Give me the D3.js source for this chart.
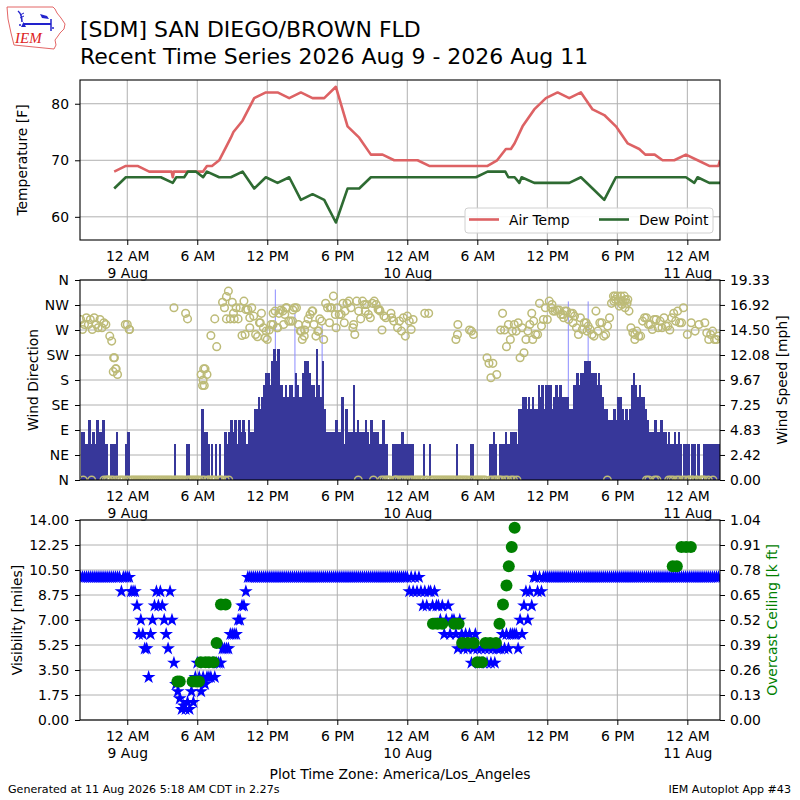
<!DOCTYPE html>
<html>
<head>
<meta charset="utf-8">
<script src="https://cdn.jsdelivr.net/npm/d3@7"></script>
<style>
body { margin: 0; background: #fff; }
svg { display: block; font-family: "DejaVu Sans", sans-serif; }
</style>
</head>
<body>
<svg id="chart" width="800" height="800"></svg>
<script>
// all times are hours after 9 Aug 2026 00:00 (plot time zone)
var airTemp = [[-1.12,68],[-0.12,69],[0.88,69],[1.88,68],[2.88,68],[3.8,68],[3.9,67],[4.0,68],[4.88,68],[5.88,68],
  [6.5,68],[6.83,69],[7.26,69],[7.88,70],[8.88,74],[9.1,75],[9.88,77],[10.88,81],[11.88,82],[12.88,82],[13.88,81],
  [14.88,82],[15.88,81],[16.88,81],[17.88,83],[18.88,76],[19.88,74],[20.88,71],[21.88,71],[22.88,70],[23.88,70],
  [24.88,70],[25.88,69],[26.88,69],[27.88,69],[28.88,69],[29.88,69],[30.88,69],[31.7,70],[32.45,72],[32.88,72],
  [33.2,73],[33.88,76],[34.88,79],[35.88,81],[36.88,82],[37.88,81],[38.88,82],[39.88,79],[40.88,78],[41.88,76],
  [42.88,73],[43.88,72],[44.4,71],[45.2,71],[45.88,70],[46.88,70],[47.88,71],[48.88,70],[49.88,69],[50.66,69],[50.8,70]];
var dewPoint = [[-1.12,65],[-0.12,67],[0.88,67],[1.88,67],[2.88,67],[3.9,66],[4.2,67],[4.88,67],[5.2,68],[5.88,68],
  [6.5,67],[6.83,68],[7.88,67],[8.88,67],[9.88,68],[10.88,65],[11.88,67],[12.88,66],[13.88,67],[14.88,63],[15.88,64],
  [16.88,63],[17.88,59],[18.88,65],[19.88,65],[20.88,67],[21.88,67],[22.88,67],[23.88,67],[24.88,67],[25.88,67],
  [26.88,67],[27.88,67],[28.88,67],[29.88,67],[30.88,68],[31.88,68],[32.4,68],[32.66,67],[33.2,67],[33.6,66],
  [33.8,67],[34.88,66],[35.88,66],[36.88,66],[37.88,66],[38.88,67],[39.88,65],[40.88,63],[41.88,67],[42.88,67],
  [43.88,67],[44.88,67],[45.88,67],[46.88,67],[47.88,67],[48.6,66],[48.88,67],[49.88,66],[50.8,66]];

// wind: one sample every 10 minutes starting 8 Aug 20:00, one line per hour
var windStartHour = -4;
var windStepMin = 10;
var windKnots = [
  4,4,3,3,5,3,  4,3,5,4,4,5,  3,3,0,3,3,3,  4,0,0,0,0,3,          // 8 Aug 20h-23h
  4,0,0,0,0,0,  0,0,0,0,0,0,  0,0,0,0,0,0,  0,0,0,0,0,0,          // 9 Aug 0h-3h
  3,0,0,0,0,0,  3,3,0,0,0,0,  0,0,6,4,4,3,  0,3,0,3,0,3,
  0,0,4,3,4,5,  4,5,3,5,4,5,  4,3,5,4,4,6,  6,7,6,7,8,9,
  9,8,10,11,10,11,  8,8,7,8,7,8,  8,7,9,8,7,7,  9,10,10,9,8,8,
  7,11,8,7,10,6,  4,4,4,4,4,5,  4,4,7,3,6,4,  4,4,8,4,5,4,
  4,4,5,4,3,5,  4,4,4,3,3,5,  3,3,0,0,3,3,  3,3,3,4,3,3,
  3,3,3,0,0,0,  0,0,3,0,0,3,  0,0,0,0,0,0,  0,0,0,0,0,0,          // 10 Aug 0h-3h
  0,3,0,0,0,0,  0,0,3,3,0,0,  0,0,0,0,0,0,  3,3,4,3,0,3,
  3,3,4,3,3,4,  4,4,3,6,6,7,  7,6,7,6,7,6,  6,8,7,8,6,8,
  8,8,6,7,8,7,  8,7,7,7,7,6,  6,8,8,9,8,9,  9,10,10,10,9,9,
  9,8,9,8,7,6,  6,5,5,5,6,5,  7,7,6,5,6,5,  6,8,9,8,7,8,
  7,7,6,5,4,4,  4,5,4,4,5,4,  4,3,4,3,3,4,  3,4,3,0,3,3,
  3,0,3,3,0,3,  0,0,3,3,3,3,  3,3,3,3,3                           // 11 Aug 0h-2h
];
// direction in degrees for the same samples (0 = calm, drawn at N)
var windDir = [
  289,271,280,292,280,289,  271,292,280,274,289,274,  283,280,0,259,250,220,  200,190,0,0,0,280,
  280,271,0,0,0,0,  0,0,0,0,0,0,  0,0,0,0,0,0,  0,0,0,0,0,0,
  310,0,0,0,0,0,  300,290,0,0,0,0,  0,0,190,180,200,190,  0,260,0,290,240,0,
  0,320,310,330,340,290,  320,290,310,290,310,260,  322,307,307,274,310,295,  262,258,283,300,274,256,
  253,270,280,280,304,274,  300,306,304,298,310,286,  286,286,310,310,280,268,  253,259,280,290,298,304,
  280,259,268,290,286,253,  318,310,283,310,331,298,  310,298,298,318,304,318,  322,310,274,262,322,304,
  290,322,316,316,298,292,  318,322,316,307,304,270,  295,292,0,0,292,286,  0,274,286,268,292,259,
  295,286,271,289,0,0,  0,0,0,300,0,300,  0,0,0,0,0,0,  0,0,0,0,0,0,
  0,253,280,0,0,0,  0,0,270,268,262,0,  0,0,0,0,0,220,  210,184,210,0,190,0,
  270,300,270,240,280,253,  268,280,268,283,220,274,  229,253,268,280,300,286,  262,262,318,277,289,310,
  289,322,310,304,304,306,  306,298,298,304,304,289,  300,300,295,274,262,292,  271,283,283,277,271,262,
  259,304,268,283,283,259,  262,277,292,318,331,325,  331,313,322,322,310,318,  304,274,265,253,268,259,
  259,286,292,292,280,280,  271,289,289,274,286,274,  292,277,277,270,292,300,  286,304,283,283,310,0,
  262,0,283,0,268,0,  280,0,0,283,265,253,  262,268,253,253,259
];
// further direction reports between the 10 minute samples [hour, degrees]
var windDirExtra = [[-3.77,0],[-3.05,0],[-2.0,0],[-1.8,0],[-1.6,0],[-1.4,0],[-1.2,0],[-0.9,0],[-0.1,0],[0.1,0],
  [4.05,0],[5.05,0],[5.25,0],[6.4,0],[6.6,0],[6.9,0],[7.2,0],[7.5,0],[8.1,0],[8.4,0],[8.7,0],[19.8,0],[21.1,0],
  [21.8,0],[22.0,0],[22.2,0],[22.9,0],[23.1,0],[23.3,0],[23.5,0],[23.7,0],[23.9,0],[24.1,0],[24.3,0],[24.45,0],
  [28.2,0],[28.4,0],[29.4,0],[29.6,0],[31.1,0],[31.3,0],[31.6,0],[31.9,0],[32.1,0],[32.4,0],[32.6,0],[32.9,0],
  [33.1,0],[33.4,0],[41.15,0],[44.5,0],[44.7,0],[45.2,0],[45.4,0],[46.4,0],[46.6,0],[46.8,0],[47.1,0],[47.3,0],
  [47.6,0],[48.1,0],[48.4,0],[48.8,0],[49.2,0],[49.5,0],[49.8,0],[50.2,0],
  [-1.1,220],[-1.2,195],[-0.95,200],[0.2,271],[6.45,170],[6.55,200],[6.6,170],[8.5,290],[9.1,300],[10.1,262],
  [10.5,292],[11.4,283],[11.9,268],[12.5,300],[12.9,274],[13.4,280],[13.6,310],[14.2,306],[14.9,268],[15.2,270],
  [15.9,304],[16.4,268],[17.4,310],[17.9,274],[18.6,283],[19.4,280],[20.4,304],[21.6,307],[22.6,300],[28.3,262],
  [34.75,253],[36.4,316],[37.4,292],[38.2,283],[39.4,268],[41.7,322],[41.8,331],[42.1,322],[42.3,331],[42.4,316],
  [42.6,331],[42.7,325],[42.9,325],[43.5,262]];
var windGusts = [[12.69,16],[14.37,14],[16.7,13],[37.8,15],[39.5,15]]; // [hour, knots]

// visibility, same 10 minute samples as the wind
var visMiles = [
  10,10,10,10,10,10,  10,10,10,10,10,10,  10,10,10,10,10,10,  10,10,10,9,10,10,
  10,10,9,9,9,8,  6,7,6,5,5,3,  6,7,8,9,8,9,  8,7,6,5,9,7,
  4,2.5,2,1.5,0.75,1,  0.75,1.25,0.75,2,1.25,3,  4,3,2,3,2.5,3,  3,3,4,3,4,4,
  4,5,5,5,5,6,  6,6,6,7,7,8,  8,9,10,10,10,10,  10,10,10,10,10,10,
  10,10,10,10,10,10,  10,10,10,10,10,10,  10,10,10,10,10,10,  10,10,10,10,10,10,
  10,10,10,10,10,10,  10,10,10,10,10,10,  10,10,10,10,10,10,  10,10,10,10,10,10,
  10,10,10,10,10,10,  10,10,10,10,10,10,  10,10,10,10,10,10,  10,10,10,10,10,10,
  10,9,10,9,10,9,  10,9,8,9,8,9,  9,8,9,8,8,7,  8,6,7,8,6,7,
  7,6,5,7,6,5,  6,5,6,4,5,6,  5,4,5,4,5,4,  5,4,5,4,5,5,
  5,6,5,6,5,6,  6,6,6,5,7,6,  8,9,7,9,8,10,  10,9,10,9,10,10,
  10,10,10,10,10,10,  10,10,10,10,10,10,  10,10,10,10,10,10,  10,10,10,10,10,10,
  10,10,10,10,10,10,  10,10,10,10,10,10,  10,10,10,10,10,10,  10,10,10,10,10,10,
  10,10,10,10,10,10,  10,10,10,10,10,10,  10,10,10,10,10,10,  10,10,10,10,10,10,
  10,10,10,10,10,10,  10,10,10,10,10,10,  10,10,10,10,10
];
var ceilingKft = [[4.3,0.2],[4.5,0.2],[5.6,0.2],[5.9,0.2],[6.15,0.2],[6.3,0.3],[6.7,0.3],[7.0,0.3],[7.4,0.3],
  [7.66,0.4],[8.03,0.6],[8.43,0.6],[26.2,0.5],[26.6,0.5],[27.0,0.5],[28.0,0.5],[28.4,0.5],[28.7,0.4],[29.2,0.4],
  [29.7,0.4],[30.0,0.3],[30.4,0.3],[30.7,0.4],[31.1,0.4],[31.6,0.4],[31.9,0.5],[32.2,0.6],[32.5,0.7],[32.7,0.8],
  [32.95,0.9],[33.2,1.0],[46.75,0.8],[47.1,0.8],[47.5,0.9],[47.9,0.9],[48.3,0.9]];

var tempTicks = [60, 70, 80];
var dirTickLabels = ['N', 'NE', 'E', 'SE', 'S', 'SW', 'W', 'NW', 'N'];
var speedTickLabels = ['0.00', '2.42', '4.83', '7.25', '9.67', '12.08', '14.50', '16.92', '19.33'];
var visTickLabels = ['0.00', '1.75', '3.50', '5.25', '7.00', '8.75', '10.50', '12.25', '14.00'];
var ceilTickLabels = ['0.00', '0.13', '0.26', '0.39', '0.52', '0.65', '0.78', '0.91', '1.04'];

var KT2MPH = 1.15078;
var FS = 13.9;
var base = new Date(2026, 7, 9, 0, 0);
function hourToDate(h) { return new Date(base.getTime() + h * 3600000); }
function slotDate(i) { return new Date(base.getTime() + (windStartHour * 60 + i * windStepMin) * 60000); }

var svg = d3.select('#chart');
var L = 80, R = 720;
var x = d3.scaleTime().domain([hourToDate(-4.05), hourToDate(50.8)]).range([L, R]);
var gridColor = '#b0b0b0';

var panels = [
  {top: 80, bottom: 240},
  {top: 280, bottom: 480},
  {top: 520, bottom: 720}
];

panels.forEach(function(p, i) {
  svg.append('clipPath').attr('id', 'clip' + i).append('rect')
    .attr('x', L).attr('y', p.top).attr('width', R - L).attr('height', p.bottom - p.top);
});

function vGrid(p) {
  svg.append('g').selectAll('line').data(x.ticks(d3.timeHour.every(6))).enter().append('line')
    .attr('x1', function(d) { return x(d); }).attr('x2', function(d) { return x(d); })
    .attr('y1', p.top).attr('y2', p.bottom)
    .attr('stroke', gridColor).attr('stroke-width', 1);
}
function hGrid(scale, vals) {
  svg.append('g').selectAll('line').data(vals).enter().append('line')
    .attr('x1', L).attr('x2', R)
    .attr('y1', function(d) { return scale(d); }).attr('y2', function(d) { return scale(d); })
    .attr('stroke', gridColor).attr('stroke-width', 1);
}
function frame(p) {
  svg.append('rect').attr('x', L).attr('y', p.top).attr('width', R - L).attr('height', p.bottom - p.top)
    .attr('fill', 'none').attr('stroke', '#000').attr('stroke-width', 1.1);
}
function timeAxis(p) {
  var g = svg.append('g').attr('transform', 'translate(0,' + p.bottom + ')')
    .call(d3.axisBottom(x).ticks(d3.timeHour.every(6)).tickSize(5).tickPadding(6.5)
      .tickFormat(d3.timeFormat('%-I %p')));
  g.attr('font-size', FS).attr('font-family', null);
  g.select('.domain').remove();
  g.selectAll('.tick text').attr('fill', '#000').each(function(d) {
    if (d.getHours() === 0) {
      d3.select(this).append('tspan').attr('x', 0).attr('dy', '1.2em').text(d3.timeFormat('%-d %b')(d));
    }
  });
}
function yLabel(text, cx, cy, color) {
  svg.append('text').attr('transform', 'translate(' + cx + ',' + cy + ') rotate(-90)')
    .attr('text-anchor', 'middle').attr('dy', '0.35em').attr('font-size', FS)
    .attr('fill', color || '#000').text(text);
}
function styleAxis(g) {
  g.attr('font-size', FS).attr('font-family', null);
  g.select('.domain').remove();
  g.selectAll('.tick text').attr('fill', '#000');
}

// ---------- panel 1: temperatures ----------
var p1 = panels[0];
var yT = d3.scaleLinear().domain([55.9, 84.2]).range([p1.bottom, p1.top]);
vGrid(p1);
hGrid(yT, tempTicks);
var line = d3.line().x(function(d) { return x(hourToDate(d[0])); }).y(function(d) { return yT(d[1]); });
var c1 = svg.append('g').attr('clip-path', 'url(#clip0)');
c1.append('path').datum(airTemp).attr('d', line).attr('fill', 'none')
  .attr('stroke', '#dd6264').attr('stroke-width', 2.6).attr('stroke-linejoin', 'round');
c1.append('path').datum(dewPoint).attr('d', line).attr('fill', 'none')
  .attr('stroke', '#2e6b32').attr('stroke-width', 2.6).attr('stroke-linejoin', 'round');
frame(p1);
styleAxis(svg.append('g').attr('transform', 'translate(' + L + ',0)')
  .call(d3.axisLeft(yT).tickValues(tempTicks).tickSize(5).tickPadding(6)));
timeAxis(p1);
yLabel('Temperature [F]', 22.5, (p1.top + p1.bottom) / 2);

// legend
var lg = svg.append('g').attr('transform', 'translate(465,208)');
lg.append('rect').attr('width', 248).attr('height', 25).attr('rx', 3)
  .attr('fill', 'rgba(255,255,255,0.85)').attr('stroke', '#d0d0d0');
[['Air Temp', '#dd6264', 4], ['Dew Point', '#2e6b32', 134]].forEach(function(it) {
  lg.append('line').attr('x1', it[2]).attr('x2', it[2] + 30).attr('y1', 11.5).attr('y2', 11.5)
    .attr('stroke', it[1]).attr('stroke-width', 2.6);
  lg.append('text').attr('x', it[2] + 40).attr('y', 16.5).attr('font-size', FS).text(it[0]);
});

// ---------- panel 2: wind ----------
var p2 = panels[1];
var yDir = d3.scaleLinear().domain([0, 360]).range([p2.bottom, p2.top]);
var ySpd = d3.scaleLinear().domain([0, 19.33]).range([p2.bottom, p2.top]);
vGrid(p2);
hGrid(yDir, d3.range(0, 361, 45));
var c2 = svg.append('g').attr('clip-path', 'url(#clip1)');
var barW = x(slotDate(1)) - x(slotDate(0));
c2.append('g').selectAll('rect').data(windGusts).enter().append('rect')
  .attr('x', function(d) { return x(hourToDate(d[0])) - 0.5; })
  .attr('width', 1)
  .attr('y', function(d) { return ySpd(d[1] * KT2MPH); })
  .attr('height', function(d) { return p2.bottom - ySpd(d[1] * KT2MPH); })
  .attr('fill', '#8c8cff');
c2.append('g').attr('shape-rendering', 'crispEdges').selectAll('rect').data(windKnots).enter().append('rect')
  .attr('x', function(d, i) { return x(slotDate(i)); })
  .attr('width', barW + 0.6)
  .attr('y', function(d) { return ySpd(d * KT2MPH); })
  .attr('height', function(d) { return p2.bottom - ySpd(d * KT2MPH); })
  .attr('fill', '#37379a');
var dirPts = [];
windDir.forEach(function(d, i) { if (d !== null) dirPts.push([slotDate(i), d]); });
windDirExtra.forEach(function(d) { dirPts.push([hourToDate(d[0]), d[1]]); });
c2.append('g').selectAll('circle').data(dirPts).enter().append('circle')
  .attr('cx', function(d) { return x(d[0]); })
  .attr('cy', function(d) { return yDir(d[1]); })
  .attr('r', 3.8)
  .attr('fill', 'none').attr('stroke', '#bdbb78').attr('stroke-width', 1.5);
frame(p2);
var gDir = svg.append('g').attr('transform', 'translate(' + L + ',0)')
  .call(d3.axisLeft(yDir).tickValues(d3.range(0, 361, 45)).tickSize(5).tickPadding(6)
    .tickFormat(function(d, i) { return dirTickLabels[i]; }));
styleAxis(gDir);
var spdTicks = speedTickLabels.map(function(s) { return +s; });
var gSpd = svg.append('g').attr('transform', 'translate(' + R + ',0)')
  .call(d3.axisRight(ySpd).tickValues(spdTicks).tickSize(5).tickPadding(5)
    .tickFormat(function(d, i) { return speedTickLabels[i]; }));
styleAxis(gSpd);
timeAxis(p2);
yLabel('Wind Direction', 33, (p2.top + p2.bottom) / 2);
yLabel('Wind Speed [mph]', 782, (p2.top + p2.bottom) / 2);

// ---------- panel 3: visibility and ceiling ----------
var p3 = panels[2];
var yVis = d3.scaleLinear().domain([0, 14]).range([p3.bottom, p3.top]);
var yCeil = d3.scaleLinear().domain([0, 1.04]).range([p3.bottom, p3.top]);
vGrid(p3);
var visTicks = visTickLabels.map(function(s) { return +s; });
hGrid(yVis, visTicks);
var c3 = svg.append('g').attr('clip-path', 'url(#clip2)');
var star = d3.symbol().type(d3.symbolStar).size(58);
c3.append('g').selectAll('path').data(visMiles).enter().append('path')
  .attr('transform', function(d, i) { return 'translate(' + x(slotDate(i)) + ',' + yVis(d) + ')'; })
  .attr('d', star).attr('fill', '#0000ff');
c3.append('g').selectAll('circle').data(ceilingKft).enter().append('circle')
  .attr('cx', function(d) { return x(hourToDate(d[0])); })
  .attr('cy', function(d) { return yCeil(d[1]); })
  .attr('r', 6).attr('fill', '#008000');
frame(p3);
var gVis = svg.append('g').attr('transform', 'translate(' + L + ',0)')
  .call(d3.axisLeft(yVis).tickValues(visTicks).tickSize(5).tickPadding(6)
    .tickFormat(function(d, i) { return visTickLabels[i]; }));
styleAxis(gVis);
var ceilTicks = ceilTickLabels.map(function(s) { return +s; });
var gCeil = svg.append('g').attr('transform', 'translate(' + R + ',0)')
  .call(d3.axisRight(yCeil).tickValues(ceilTicks).tickSize(5).tickPadding(5)
    .tickFormat(function(d, i) { return ceilTickLabels[i]; }));
styleAxis(gCeil);
timeAxis(p3);
yLabel('Visibility [miles]', 17.5, (p3.top + p3.bottom) / 2);
yLabel('Overcast Ceiling [k ft]', 772, (p3.top + p3.bottom) / 2, '#008000');

// ---------- titles and footer ----------
svg.append('text').attr('x', 80).attr('y', 37).attr('font-size', 22).text('[SDM] SAN DIEGO/BROWN FLD');
svg.append('text').attr('x', 80).attr('y', 64).attr('font-size', 22)
  .text('Recent Time Series 2026 Aug 9 - 2026 Aug 11');
svg.append('text').attr('x', 400).attr('y', 779).attr('text-anchor', 'middle').attr('font-size', FS)
  .text('Plot Time Zone: America/Los_Angeles');
svg.append('text').attr('x', 8).attr('y', 793).attr('font-size', 11.1)
  .text('Generated at 11 Aug 2026 5:18 AM CDT in 2.27s');
svg.append('text').attr('x', 791).attr('y', 793).attr('text-anchor', 'end').attr('font-size', 11.1)
  .text('IEM Autoplot App #43');

// ---------- IEM logo ----------
var logo = svg.append('g');
logo.append('path')
  .attr('d', 'M7,7 L53,7 L55,9 L57,13 L61,18 L65,24 L64,29 L60,33 L58,36 L55,40 L56,45 L54,49 L14,45 L11,33 L8,19 Z')
  .attr('fill', 'none').attr('stroke', '#e05555').attr('stroke-width', 0.9);
logo.append('line').attr('x1', 23).attr('x2', 51).attr('y1', 24).attr('y2', 24)
  .attr('stroke', '#2222cc').attr('stroke-width', 2);
logo.append('path').attr('d', 'M18,11 Q22,14 22,22').attr('fill', 'none').attr('stroke', '#2222cc').attr('stroke-width', 1.5);
logo.append('path').attr('d', 'M20,15 L24,13 M20,18 L24,16').attr('stroke', '#2222cc').attr('stroke-width', 1);
logo.append('path').attr('d', 'M21,27 L23.5,22 L26,27 Z').attr('fill', '#2222cc');
logo.append('path').attr('d', 'M40,14 L47,16 L49,19 L42,18 Z').attr('fill', '#2222cc');
logo.append('line').attr('x1', 51).attr('x2', 51).attr('y1', 19).attr('y2', 31)
  .attr('stroke', '#2222cc').attr('stroke-width', 1.5);
logo.append('circle').attr('cx', 53).attr('cy', 28).attr('r', 1).attr('fill', '#2222cc');
logo.append('circle').attr('cx', 20).attr('cy', 25).attr('r', 1).attr('fill', '#2222cc');
logo.append('text').attr('x', 15).attr('y', 43).attr('font-family', '"Liberation Serif", serif')
  .attr('font-style', 'italic').attr('font-size', 15).attr('fill', '#dd2222').text('IEM');
</script>
</body>
</html>
